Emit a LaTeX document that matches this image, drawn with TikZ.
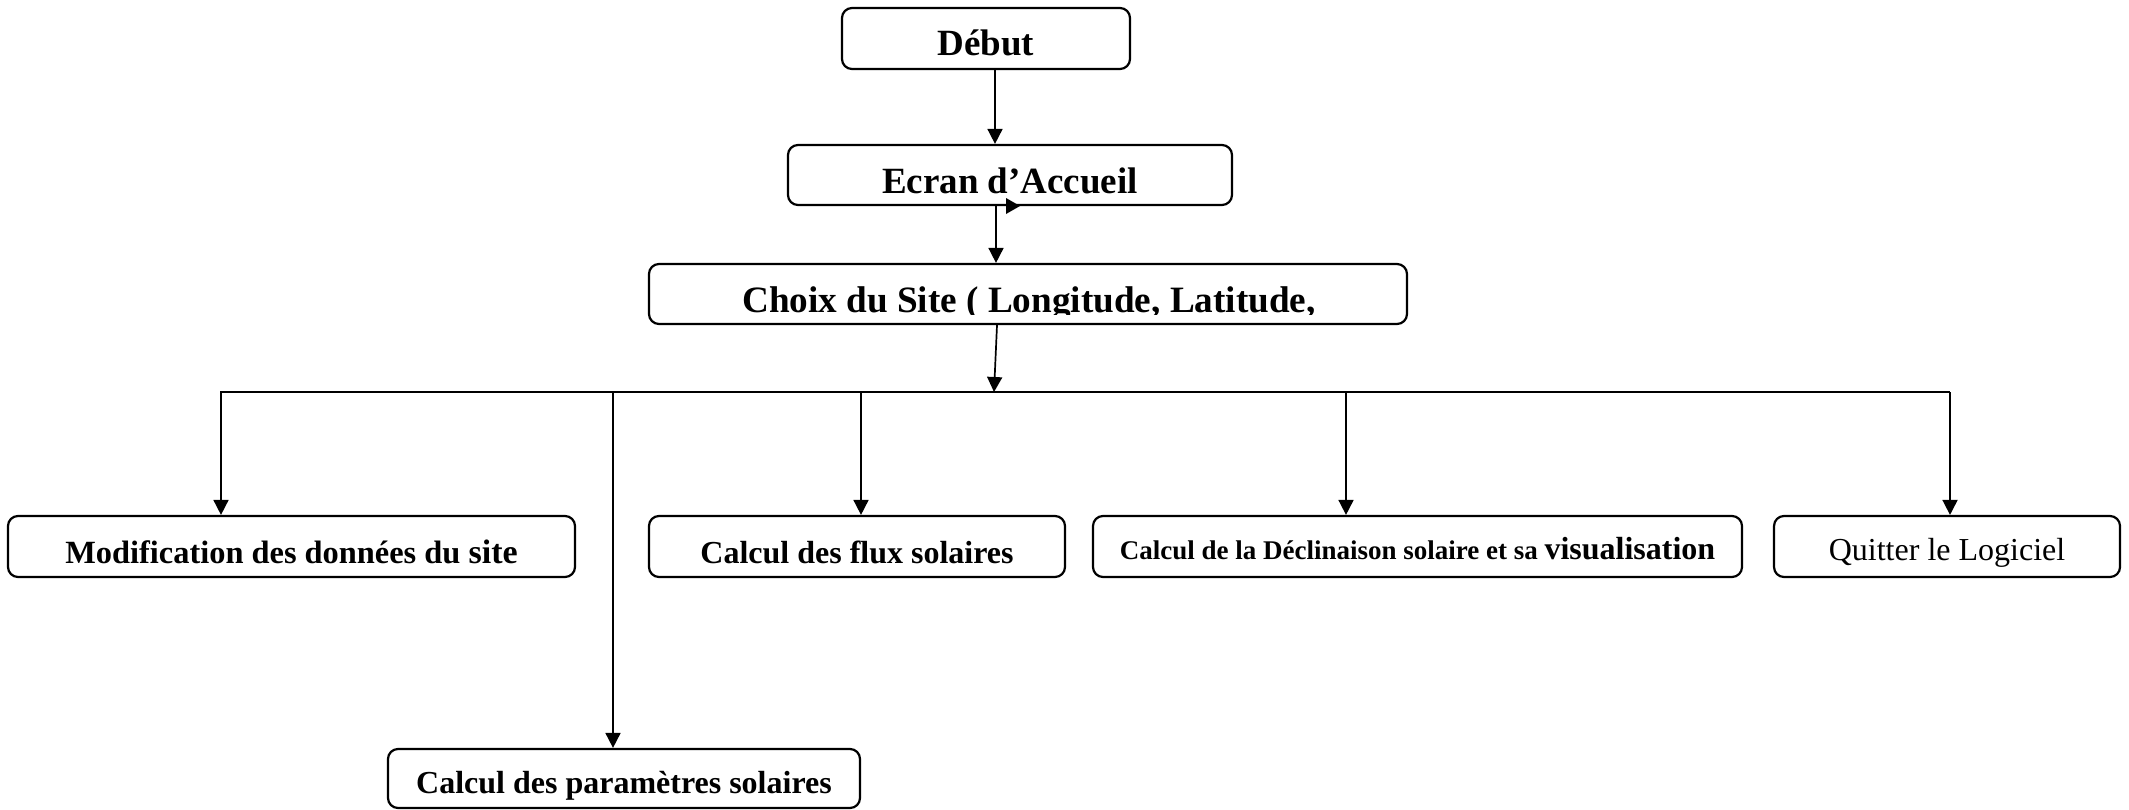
\documentclass[tikz,border=0pt]{standalone}
\usepackage{fontspec}
\setmainfont{Liberation Serif}
\usetikzlibrary{arrows.meta}
\tikzset{
  box/.style={draw, line width=1.1pt, rounded corners=5pt, inner sep=0pt, text depth=0pt},
  sz/.style 2 args={minimum width={#1*0.5pt}, minimum height={#2*0.5pt}},
  arr/.style={line width=0.85pt, -{Triangle[length=7.5pt,width=7.5pt]}},
  conn/.style={line width=0.85pt},
  bigbold/.style={font=\fontsize{18.5}{20}\selectfont\bfseries},
  midbold/.style={font=\fontsize{16}{18}\selectfont\bfseries},
}
\begin{document}
\begin{tikzpicture}[x=0.5pt,y=-0.5pt]
\useasboundingbox (0,0) rectangle (2129,809);
% boxes
\node[box, bigbold, text height=16.5pt, sz={288}{61}] (debut) at (986,38.5) {Début};
\node[box, bigbold, text height=18pt, sz={444}{60}] (ecran) at (1010,175) {Ecran d’Accueil};
\node[box, sz={758}{60}] (choix) at (1028,294) {};
\begin{scope}
  \clip (649,264) rectangle (1407,314);
  \node[anchor=base, inner sep=0pt, font=\fontsize{18.6}{20}\selectfont\bfseries] (choixtext) at (1029,312) {Choix du Site ( Longitude, Latitude,};
\end{scope}
\node[box, font=\fontsize{16.2}{18}\selectfont\bfseries, text height=16.5pt, sz={567}{61}] (modif) at (291.5,546.5) {Modification des données du \fontsize{17}{18}\selectfont site};
\node[box, midbold, text height=16.5pt, sz={416}{61}] (flux) at (857,546.5) {Calcul des flux solaires};
\node[box, font=\fontsize{13.5}{16}\selectfont\bfseries, text height=12.5pt, sz={649}{61}] (decl) at (1417.5,546.5) {Calcul de la Déclinaison solaire et sa \fontsize{16}{18}\selectfont visualisation};
\node[box, font=\fontsize{16}{18}\selectfont, text height=13.5pt, sz={346}{61}] (quit) at (1947,546.5) {Quitter le Logiciel};
\node[box, midbold, text height=14.5pt, sz={472}{59}] (param) at (624,778.5) {Calcul des paramètres solaires};
% connectors
\coordinate (c1) at (995,0);
\draw[arr] (debut.south -| c1) -- (ecran.north -| c1);
\coordinate (c2) at (996,0);
\draw[arr] (ecran.south -| c2) -- (choix.north -| c2);
\fill (1006,198) -- (1020,206) -- (1006,214) -- cycle;
\coordinate (c3) at (997,0);
\coordinate (bus) at (994,392);
\draw[arr] (choix.south -| c3) -- (bus);
\coordinate (busL) at (220,392);
\coordinate (busR) at (1950,392);
\draw[conn] (busL) -- (busR);
\coordinate (b1) at (221,392);
\coordinate (b2) at (613,392);
\coordinate (b3) at (861,392);
\coordinate (b4) at (1346,392);
\coordinate (b5) at (1950,392);
\draw[arr] (b1) -- (modif.north -| b1);
\draw[arr] (b2) -- (param.north -| b2);
\draw[arr] (b3) -- (flux.north -| b3);
\draw[arr] (b4) -- (decl.north -| b4);
\draw[arr] (b5) -- (quit.north -| b5);
\end{tikzpicture}
\end{document}
